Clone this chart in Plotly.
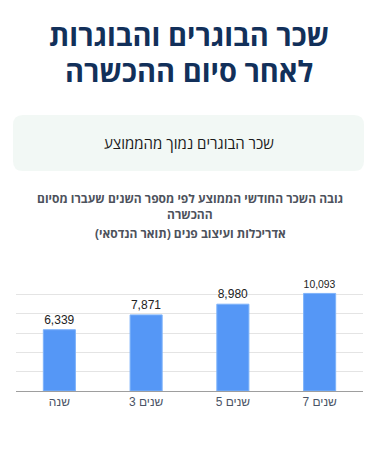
import plotly.graph_objects as go

categories = ["שנה", "3 שנים", "5 שנים", "7 שנים"]
salaries = [6339, 7871, 8980, 10093]
value_labels = ["6,339", "7,871", "8,980", "10,093"]

title_lines = ["שכר הבוגרים והבוגרות", "לאחר סיום ההכשרה"]
box_text = "שכר הבוגרים נמוך מהממוצע"
subtitle_lines = ["גובה השכר החודשי הממוצע לפי מספר השנים שעברו מסיום", "ההכשרה",
                  "אדריכלות ועיצוב פנים (תואר הנדסאי)"]

W, H = 376, 452
L, R, T, B = 16, 13, 275, 61
PW, PH = W - L - R, H - T - B

def px(x):
    return (x - L) / PW

def py(y):
    return (H - B - y) / PH

RLM = "\u200f"

fig = go.Figure()
fig.add_trace(go.Bar(
    x=categories, y=salaries, width=0.37,
    marker=dict(color="#5597f6", line=dict(color="#7eb3fa", width=1)),
    text=value_labels, textposition="outside", cliponaxis=False,
    textfont=dict(family="Liberation Sans, Arial", size=12, color="#222222"),
    hoverinfo="skip",
))

# rounded rectangle box
x0, x1, y0, y1, r = 13, 364, 115, 171, 10
path = (f"M {px(x0 + r)} {py(y0)} L {px(x1 - r)} {py(y0)} Q {px(x1)} {py(y0)} {px(x1)} {py(y0 + r)} "
        f"L {px(x1)} {py(y1 - r)} Q {px(x1)} {py(y1)} {px(x1 - r)} {py(y1)} "
        f"L {px(x0 + r)} {py(y1)} Q {px(x0)} {py(y1)} {px(x0)} {py(y1 - r)} "
        f"L {px(x0)} {py(y0 + r)} Q {px(x0)} {py(y0)} {px(x0 + r)} {py(y0)} Z")

fig.update_layout(
    width=W, height=H,
    margin=dict(l=L, r=R, t=T, b=B),
    paper_bgcolor="white", plot_bgcolor="white",
    showlegend=False,
    shapes=[dict(type="path", path=path, xref="paper", yref="paper",
                 fillcolor="#f2f8f5", line=dict(width=0), layer="below")],
    xaxis=dict(showgrid=False, showline=True, linecolor="#9e9e9e", linewidth=1,
               ticks="",
               tickfont=dict(family="Liberation Sans, Arial", size=12, color="#4a5466"),
               fixedrange=True),
    yaxis=dict(range=[0, 12000], dtick=2000, showticklabels=False, showgrid=True,
               gridcolor="#e4e4e4", gridwidth=1, zeroline=False, fixedrange=True),
)

annotations = []
for i, line in enumerate(title_lines):
    annotations.append(dict(
        text=f"<b>{RLM}{line}{RLM}</b>", x=px(W / 2 + 1), y=py(35 + i * 35),
        xref="paper", yref="paper",
        showarrow=False, xanchor="center", yanchor="middle",
        font=dict(family="Open Sans, DejaVu Sans", size=29, color="#12305a"),
    ))

annotations.append(dict(
    text=f"{RLM}{box_text}{RLM}", x=px(W / 2 + 1), y=py(143), xref="paper", yref="paper",
    showarrow=False, xanchor="center", yanchor="middle",
    font=dict(family="Open Sans, DejaVu Sans", size=15, color="#1a1a1a"),
))

sub_y = [198, 214, 233]
for line, yy in zip(subtitle_lines, sub_y):
    annotations.append(dict(
        text=f"<b>{RLM}{line}{RLM}</b>", x=px(W / 2 + 2), y=py(yy), xref="paper", yref="paper",
        showarrow=False, xanchor="center", yanchor="middle",
        font=dict(family="Open Sans, DejaVu Sans", size=12, color="#4d525c"),
    ))

fig.update_layout(annotations=annotations)
fig.write_html("out.html", config={"displayModeBar": False},
               post_script="document.body.style.margin='0';document.body.style.padding='0';")
